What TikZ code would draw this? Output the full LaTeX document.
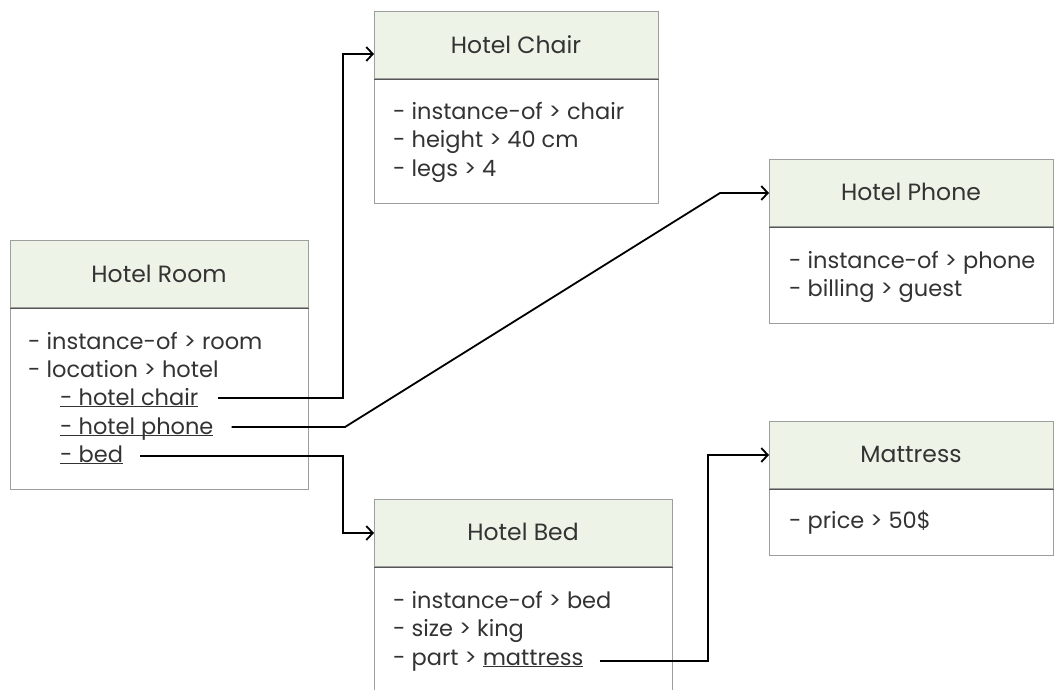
\documentclass[tikz,border=0pt]{standalone}
\usepackage{fontspec}
\setmainfont{Poppins}
\usetikzlibrary{arrows.meta}
\definecolor{hdrfill}{HTML}{EEF3E8}
\definecolor{boxline}{HTML}{9E9E9E}
\definecolor{divline}{HTML}{555555}
\definecolor{txt}{HTML}{333333}
\newcommand{\myul}[1]{\underline{\smash{#1}}}
\begin{document}
\begin{tikzpicture}[x=1pt,y=-1pt,
 hdr/.style={draw=boxline, fill=hdrfill, line width=1pt, anchor=north west, inner sep=0, minimum height=67pt},
 bodybox/.style={draw=boxline, fill=white, line width=1pt, anchor=north west, inner sep=0},
 divider/.style={draw=divline, line width=1pt},
 title/.style={anchor=base, text=txt, font=\fontsize{23.5}{26}\selectfont, inner sep=0},
 item/.style={anchor=base west, text=txt, font=\fontsize{22.5}{26}\selectfont, inner sep=0},
 conn/.style={line width=1.8pt, -{Straight Barb[length=6.5pt,width=14pt,line width=1.8pt]}}
]
\clip (0,0) rectangle (1063,689);
\fill[white] (0,0) rectangle (1063,689);

% Hotel Room
\node[hdr, minimum width=298pt] (roomH) at (10,240) {};
\node[bodybox, minimum width=298pt, minimum height=181pt] (roomB) at (roomH.south west) {};
\draw[divider] (roomH.south west) -- (roomH.south east);
\node[title] (roomT) at (159,282) {Hotel Room};
\node[item] (r1) at (28,349) {- instance-of > room};
\node[item] (r2) at (28,377.5) {- location > hotel};
\node[item] (hcT) at (60,405) {\myul{- hotel chair}};
\node[item] (hpT) at (60,434) {\myul{- hotel phone}};
\node[item] (bdT) at (60,462) {\myul{- bed}};

% Hotel Chair
\node[hdr, minimum width=284pt] (chairH) at (374,11) {};
\node[bodybox, minimum width=284pt, minimum height=124pt] (chairB) at (chairH.south west) {};
\draw[divider] (chairH.south west) -- (chairH.south east);
\node[title] (chairT) at (516,53) {Hotel Chair};
\node[item] (c1) at (393,119) {- instance-of > chair};
\node[item] (c2) at (393,147.5) {- height > 40 cm};
\node[item] (c3) at (393,176) {- legs > 4};

% Hotel Phone
\node[hdr, minimum width=284pt] (phoneH) at (769,159) {};
\node[bodybox, minimum width=284pt, minimum height=96pt] (phoneB) at (phoneH.south west) {};
\draw[divider] (phoneH.south west) -- (phoneH.south east);
\node[title] (phoneT) at (911,200) {Hotel Phone};
\node[item] (p1) at (789,268) {- instance-of > phone};
\node[item] (p2) at (789,296.5) {- billing > guest};

% Mattress
\node[hdr, minimum width=284pt] (mattH) at (769,421) {};
\node[bodybox, minimum width=284pt, minimum height=66pt] (mattB) at (mattH.south west) {};
\draw[divider] (mattH.south west) -- (mattH.south east);
\node[title] (mattTitle) at (911,462) {Mattress};
\node[item] (m1) at (789,528) {- price > 50\$};

% Hotel Bed
\node[hdr, minimum width=298pt] (bedH) at (374,499) {};
\node[bodybox, minimum width=298pt, minimum height=140pt] (bedB) at (bedH.south west) {};
\draw[divider] (bedH.south west) -- (bedH.south east);
\node[title] (bedTitle) at (523,540) {Hotel Bed};
\node[item] (b1) at (393,608) {- instance-of > bed};
\node[item] (b2) at (393,636.5) {- size > king};
\node[item] (matT) at (393,665) {- part > \myul{mattress}};

% connectors
\coordinate (k1) at (343,200);
\coordinate (k2a) at (345,427);
\coordinate (k2x) at (720,0);
\coordinate (k3) at (343,500);
\coordinate (k4) at (708,550);

\draw[conn] ([shift={(20pt,7pt)}]hcT.base east) -| (k1) |- ([yshift=-9pt]chairH.west);
\draw[conn] ([shift={(18pt,7pt)}]hpT.base east) -- (k2a) -- (phoneH.west -| k2x) -- (phoneH.west);
\draw[conn] ([shift={(17pt,6pt)}]bdT.base east) -| (k3) |- (bedH.west);
\draw[conn] ([shift={(16pt,4pt)}]matT.base east) -| (k4) |- (mattH.west);
\end{tikzpicture}
\end{document}
